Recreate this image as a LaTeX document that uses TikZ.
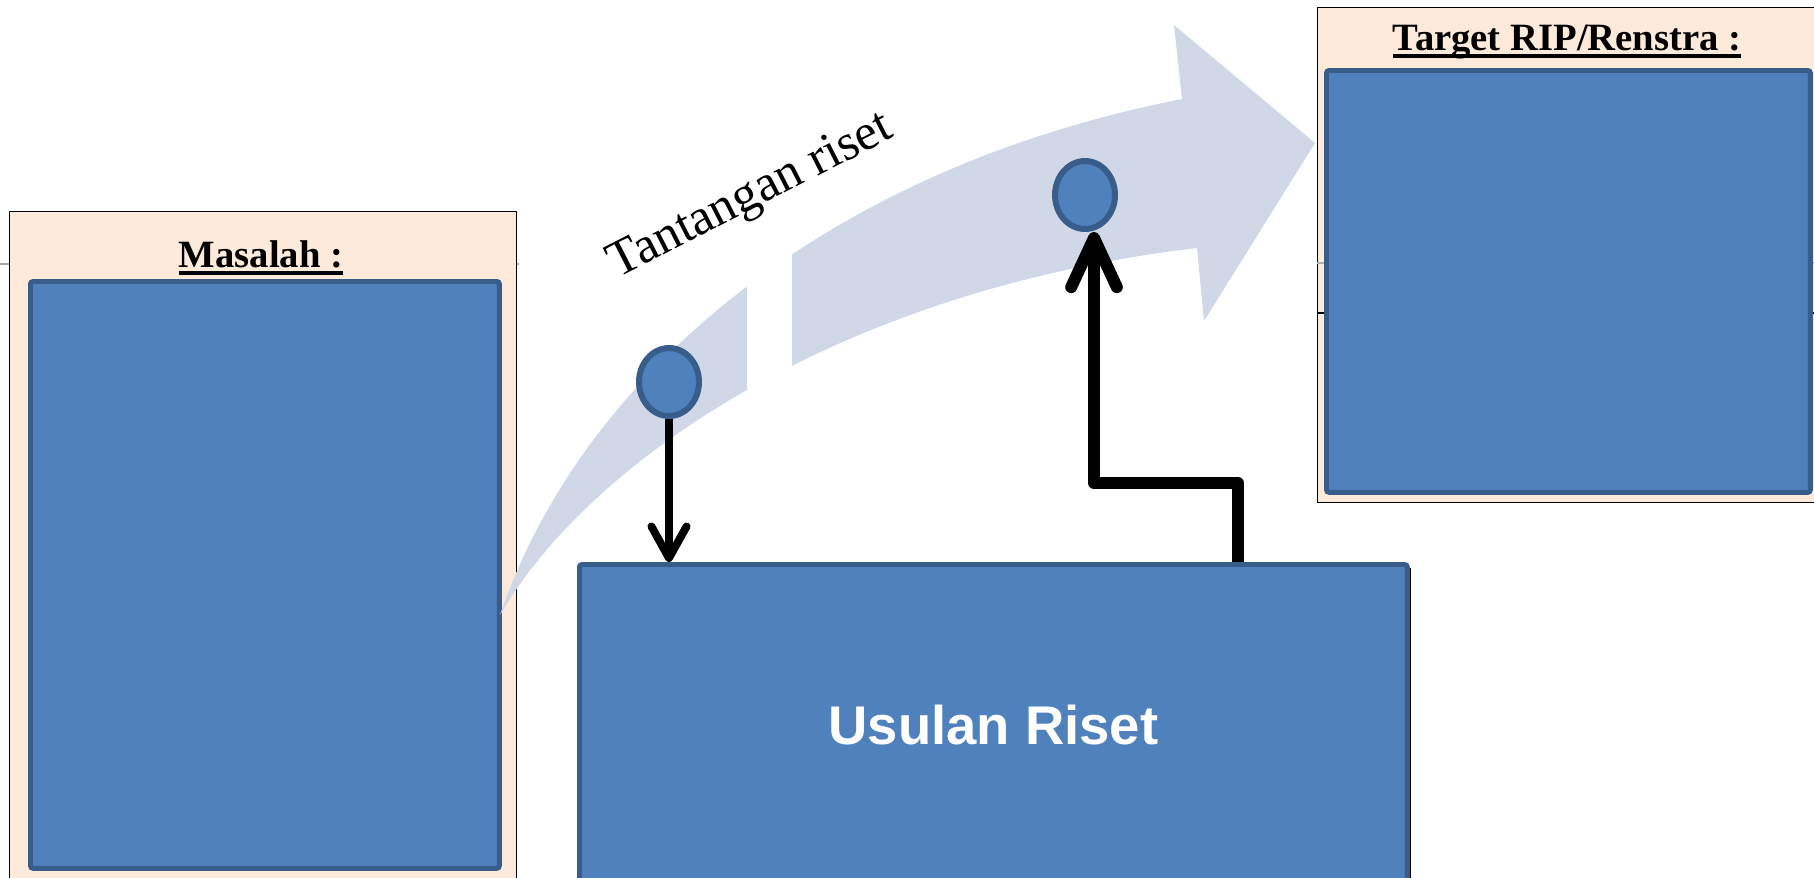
\documentclass[tikz,border=0pt]{standalone}
\usepackage{fontspec}
\setmainfont{Liberation Serif}
\newfontfamily\arialfont{Liberation Sans}
\usetikzlibrary{shapes.geometric,arrows.meta}
\definecolor{pita}{HTML}{D0D8E8}
\definecolor{isibiru}{HTML}{4F81BD}
\definecolor{garisbiru}{HTML}{385D8A}
\definecolor{persik}{HTML}{FDEADA}
\newcommand{\garisbawah}[1]{\setbox0\hbox{#1}\rlap{\rule[-4.5pt]{\wd0}{2.2pt}}\box0}

\begin{document}
\begin{tikzpicture}[x=0.02cm, y=-0.02cm,
    kotakluar/.style={draw, line width=0.8pt, fill=persik, anchor=north west, inner sep=0},
    kotakbiru/.style={draw=garisbiru, line width=2.8pt, fill=isibiru, rounded corners=1.5pt, anchor=north west, inner sep=0},
    judul/.style={anchor=base, font=\fontsize{22}{24}\selectfont\bfseries},
    titik/.style={ellipse, draw=garisbiru, line width=3.4pt, fill=isibiru, minimum width=1.2cm, minimum height=1.36cm, inner sep=0},
    panahtipis/.style={line width=4.5pt, -{Straight Barb[length=18pt, width=20pt, round]}},
    panahtebal/.style={line width=6.8pt, line join=round, -{Straight Barb[length=28pt, width=26pt, round]}}]
  \useasboundingbox (0,0) rectangle (1814,877);
  \clip (0,0) rectangle (1814,877);

  % kotak masalah
  \draw[gray!70, line width=0.6pt] (0,264) -- (519,264);
  \node[kotakluar, minimum width=10.14cm, minimum height=13.38cm] (masalah) at (9,211) {};
  \node[kotakbiru, minimum width=9.38cm, minimum height=11.74cm] (isimasalah) at (28,279) {};
  \node[judul] (jmasalah) at (261,267) {\garisbawah{Masalah :}};

  % kotak target
  \node[kotakluar, minimum width=10.26cm, minimum height=9.9cm] (target) at (1317,7) {};
  \draw[gray!60, line width=0.6pt] (1317,263) -- (1814,263);
  \draw[line width=1pt] (1317,313) -- (1814,313);
  \node[kotakbiru, minimum width=9.68cm, minimum height=8.44cm] (isitarget) at (1324,68) {};
  \node[judul] (jtarget) at (1567,50) {\garisbawah{Target RIP/Renstra :}};

  % panah lengkung
  \fill[pita] (500,615) .. controls (580,380) and (820,170) .. (1182,99) -- (1174,25) -- (1315,143)
    -- (1204,321) -- (1197,248) .. controls (840,290) and (590,460) .. (500,615) -- cycle;
  \fill[white] (747,240) rectangle (792,400);
  \node[rotate=27, anchor=base west, font=\fontsize{29}{31}\selectfont] (tantangan) at (612,281) {Tantangan riset};

  % usulan riset
  \draw[line width=0.8pt] (583,569) rectangle (1410,890);
  \node[kotakbiru, minimum width=16.56cm, minimum height=6.44cm, text=white,
    font=\arialfont\fontsize{31}{33}\selectfont\bfseries] (usulan) at (577,562) {Usulan Riset};

  \node[titik] (titik1) at (669,382) {};
  \node[titik] (titik2) at (1085,195) {};
  \coordinate (belok) at (1238,483);

  \draw[panahtipis] (titik1.south) -- (titik1.south |- usulan.north);
  \draw[panahtebal] (belok |- usulan.north) -- (belok) -| ([xshift=0.18cm]titik2.south);
\end{tikzpicture}
\end{document}
